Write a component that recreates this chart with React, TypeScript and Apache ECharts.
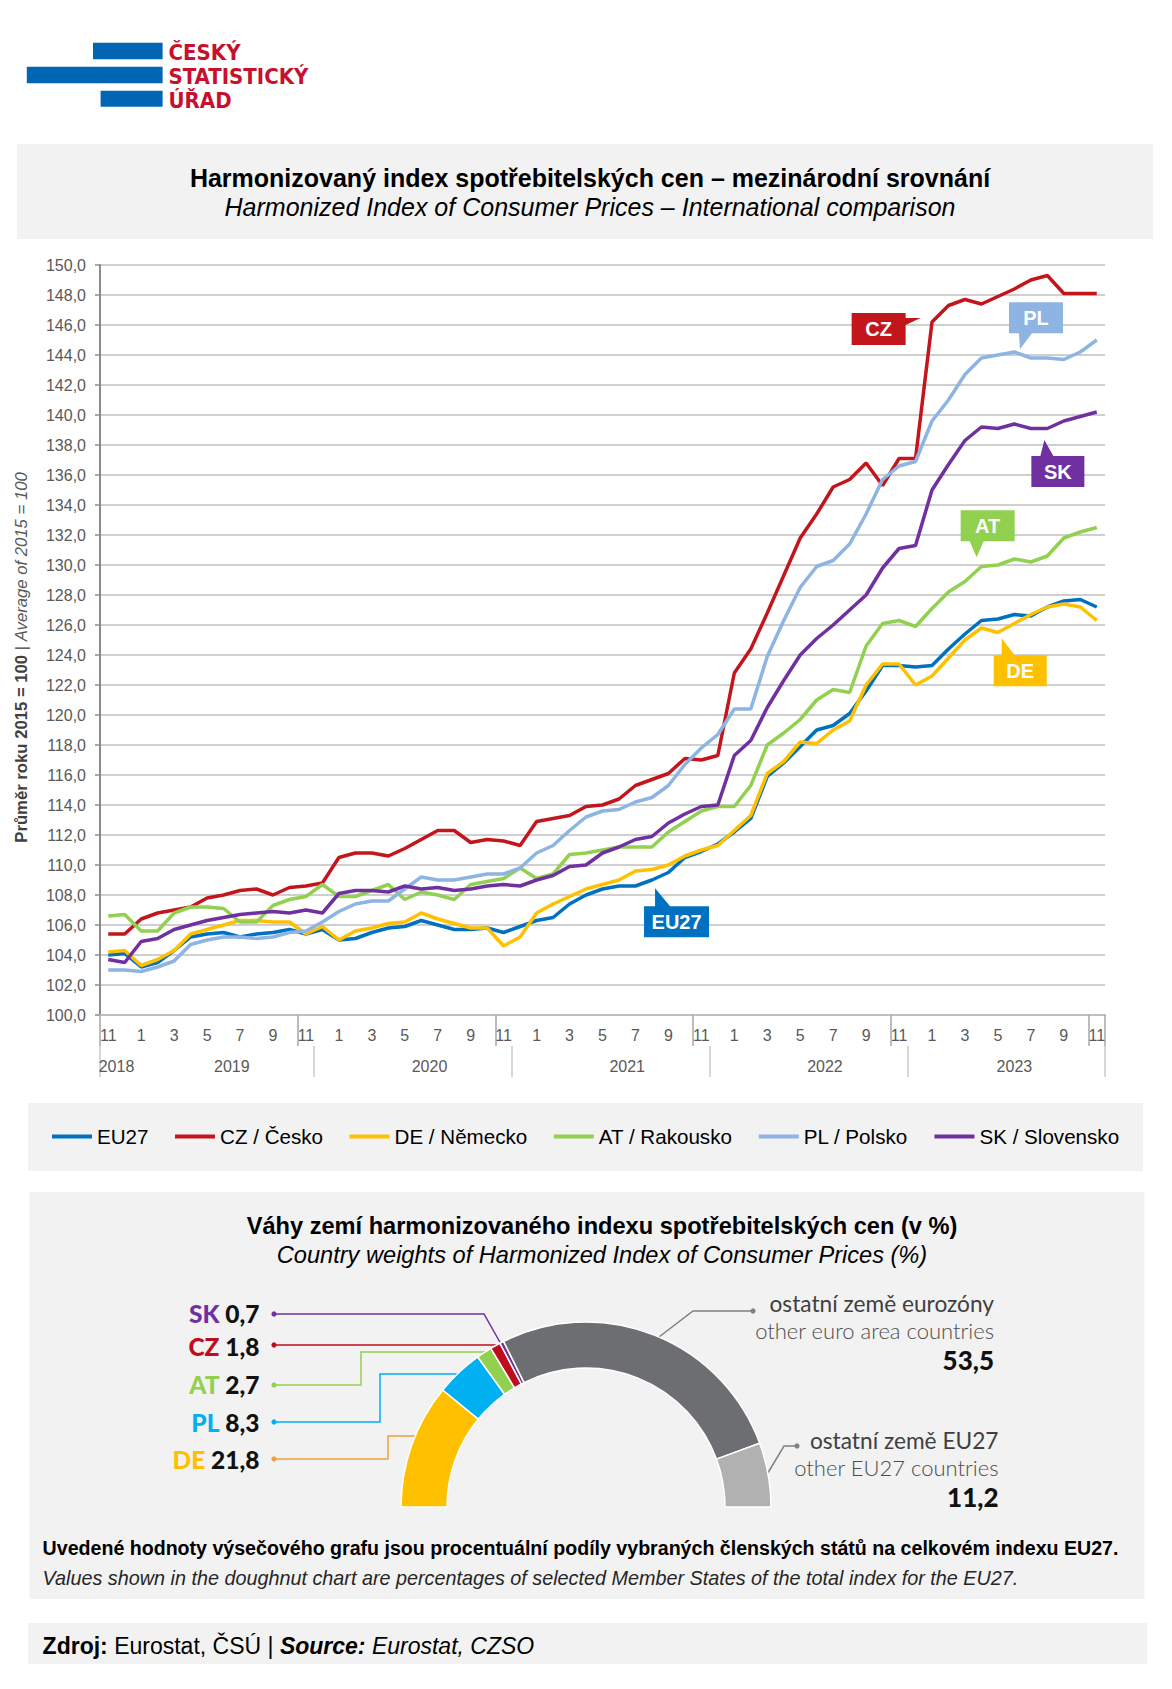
import React, { useEffect, useRef } from 'react';
import * as echarts from 'echarts';

// ---------- DATA ----------
const CATEGORIES = [
  '2018-11', '2018-12',
  '2019-01', '2019-02', '2019-03', '2019-04', '2019-05', '2019-06', '2019-07', '2019-08', '2019-09', '2019-10', '2019-11', '2019-12',
  '2020-01', '2020-02', '2020-03', '2020-04', '2020-05', '2020-06', '2020-07', '2020-08', '2020-09', '2020-10', '2020-11', '2020-12',
  '2021-01', '2021-02', '2021-03', '2021-04', '2021-05', '2021-06', '2021-07', '2021-08', '2021-09', '2021-10', '2021-11', '2021-12',
  '2022-01', '2022-02', '2022-03', '2022-04', '2022-05', '2022-06', '2022-07', '2022-08', '2022-09', '2022-10', '2022-11', '2022-12',
  '2023-01', '2023-02', '2023-03', '2023-04', '2023-05', '2023-06', '2023-07', '2023-08', '2023-09', '2023-10', '2023-11',
];
const YEAR_LABELS = ['2018', '2019', '2020', '2021', '2022', '2023'];

const SERIES_NAMES = ['EU27', 'CZ / Česko', 'DE / Německo', 'AT / Rakousko', 'PL / Polsko', 'SK / Slovensko'];

const EU27 = [
  104.0, 104.1, 103.2, 103.5, 104.3, 105.2, 105.4, 105.5, 105.2, 105.4, 105.5, 105.7, 105.4, 105.7,
  105.0, 105.1, 105.5, 105.8, 105.9, 106.3, 106.0, 105.7, 105.7, 105.8, 105.5, 105.9,
  106.3, 106.5, 107.4, 108.0, 108.4, 108.6, 108.6, 109.0, 109.5, 110.5, 110.9, 111.4,
  112.2, 113.1, 115.9, 116.8, 117.9, 119.0, 119.3, 120.1, 121.6, 123.3, 123.3, 123.2,
  123.3, 124.4, 125.4, 126.3, 126.4, 126.7, 126.6, 127.2, 127.6, 127.7, 127.2,
];
const CZ = [
  105.4, 105.4, 106.4, 106.8, 107.0, 107.2, 107.8, 108.0, 108.3, 108.4, 108.0, 108.5, 108.6, 108.8,
  110.5, 110.8, 110.8, 110.6, 111.1, 111.7, 112.3, 112.3, 111.5, 111.7, 111.6, 111.3,
  112.9, 113.1, 113.3, 113.9, 114.0, 114.4, 115.3, 115.7, 116.1, 117.1, 117.0, 117.3,
  122.8, 124.4, 126.8, 129.3, 131.8, 133.4, 135.2, 135.7, 136.8, 135.3, 137.1, 137.1,
  146.2, 147.3, 147.7, 147.4, 147.9, 148.4, 149.0, 149.3, 148.1, 148.1, 148.1,
];
const DE = [
  104.2, 104.3, 103.3, 103.7, 104.3, 105.4, 105.7, 106.0, 106.3, 106.3, 106.2, 106.2, 105.4, 105.9,
  105.0, 105.6, 105.8, 106.1, 106.2, 106.8, 106.4, 106.1, 105.8, 105.8, 104.6, 105.2,
  106.8, 107.4, 107.9, 108.4, 108.7, 109.0, 109.6, 109.7, 110.0, 110.6, 111.0, 111.3,
  112.3, 113.3, 116.1, 116.9, 118.2, 118.1, 119.0, 119.6, 122.0, 123.4, 123.4, 122.0,
  122.6, 123.8, 125.0, 125.8, 125.5, 126.1, 126.7, 127.2, 127.4, 127.2, 126.3,
];
const AT = [
  106.6, 106.7, 105.6, 105.6, 106.8, 107.2, 107.2, 107.1, 106.2, 106.2, 107.3, 107.7, 107.9, 108.7,
  107.9, 107.9, 108.3, 108.7, 107.7, 108.2, 108.0, 107.7, 108.7, 108.9, 109.1, 109.8,
  109.1, 109.4, 110.7, 110.8, 111.0, 111.2, 111.2, 111.2, 112.2, 112.9, 113.6, 113.9,
  113.9, 115.3, 118.0, 118.8, 119.7, 121.0, 121.7, 121.5, 124.6, 126.1, 126.3, 125.9,
  127.1, 128.2, 128.9, 129.9, 130.0, 130.4, 130.2, 130.6, 131.8, 132.2, 132.5,
];
const PL = [
  103.0, 103.0, 102.9, 103.2, 103.6, 104.7, 105.0, 105.2, 105.2, 105.1, 105.2, 105.5, 105.6, 106.2,
  106.9, 107.4, 107.6, 107.6, 108.4, 109.2, 109.0, 109.0, 109.2, 109.4, 109.4, 109.8,
  110.8, 111.3, 112.3, 113.2, 113.6, 113.7, 114.2, 114.5, 115.3, 116.7, 117.8, 118.7,
  120.4, 120.4, 123.9, 126.3, 128.5, 129.9, 130.3, 131.4, 133.4, 135.7, 136.6, 136.9,
  139.6, 141.0, 142.7, 143.8, 144.0, 144.2, 143.8, 143.8, 143.7, 144.2, 145.0,
];
const SK = [
  103.7, 103.5, 104.9, 105.1, 105.7, 106.0, 106.3, 106.5, 106.7, 106.8, 106.9, 106.8, 107.0, 106.8,
  108.1, 108.3, 108.3, 108.2, 108.6, 108.4, 108.5, 108.3, 108.4, 108.6, 108.7, 108.6,
  109.0, 109.3, 109.9, 110.0, 110.8, 111.2, 111.7, 111.9, 112.8, 113.4, 113.9, 114.0,
  117.3, 118.3, 120.5, 122.3, 124.0, 125.1, 126.0, 127.0, 128.0, 129.8, 131.1, 131.3,
  135.0, 136.7, 138.3, 139.2, 139.1, 139.4, 139.1, 139.1, 139.6, 139.9, 140.2,
];
const SERIES_VALUES = [EU27, CZ, DE, AT, PL, SK];

const WEIGHT_CODES = ['DE', 'PL', 'AT', 'CZ', 'SK', 'ostatní země eurozóny', 'ostatní země EU27'];
const WEIGHT_CODES_EN = ['', '', '', '', '', 'other euro area countries', 'other EU27 countries'];
const WEIGHTS = [21.8, 8.3, 2.7, 1.8, 0.7, 53.5, 11.2];

// ---------- STYLE / LAYOUT ----------
const FONT = "'Liberation Sans', Arial, Helvetica, sans-serif";
const GOTHIC = "Lato, 'Open Sans', sans-serif";
const SERIES_COLORS = ['#0070c0', '#c3161c', '#ffc000', '#92d050', '#8db4e2', '#7030a0'];
const WEIGHT_COLORS = ['#ffc000', '#00b0f0', '#92d050', '#c00d1e', '#7030a0', '#6d6e71', '#b1b1b1'];
const LEADER_COLORS = ['#eda33a', '#00b0f0', '#92d050', '#c00d1e', '#7030a0', '#808080', '#808080'];

const MONTH_SEP = [0, 12, 24, 36, 48, 60];
const YEAR_SEP = [0, 13, 25, 37, 49];
const YEAR_LABEL_INDEX = [0, 7, 19, 31, 43, 55];
const YEAR_LABEL_HALF = [true, true, true, true, true, false];

const PIE_CX = 586;
const PIE_CY = 1507;
const PIE_R = 185;
const PIE_r = 139;

// leader lines: dot end, elbow points (from dot side), y where it meets slice edge, side
const LEADERS = [
  { dot: [274, 1459], elbow: [[388, 1459], [388, 1436]], hitY: 1436, side: -1 },
  { dot: [274, 1422], elbow: [[380, 1422], [380, 1374]], hitY: 1374, side: -1 },
  { dot: [274, 1385], elbow: [[361, 1385], [361, 1352]], hitY: 1352, side: -1 },
  { dot: [274, 1345], elbow: [], hitY: 1345, side: -1 },
  { dot: [274, 1314], elbow: [[484, 1314]], hitY: 1343, side: -1 },
  { dot: [753, 1311], elbow: [[693, 1311]], hitY: 1337, side: 1 },
  { dot: [797, 1446], elbow: [[784, 1446]], hitY: 1473, side: 1 },
];
const LABEL_POS = [
  { x: 259.5, y: 1459, va: 'middle' },
  { x: 259.5, y: 1422.5, va: 'middle' },
  { x: 259.5, y: 1384, va: 'middle' },
  { x: 259.5, y: 1346, va: 'middle' },
  { x: 259.5, y: 1313.5, va: 'middle' },
  { x: 994, y: 1289.5, va: 'top' },
  { x: 998.5, y: 1426.5, va: 'top' },
];

// callouts: anchor (category index, value) = tip of pointer; polygon & text offsets in px
const CALLOUTS = [
  { label: 'CZ', s: 1, at: [49.31, 146.4], poly: [[-69, -6], [-15, -6], [-15, -1], [0, -1], [-15, 6], [-15, 26], [-69, 26]], t: [-42, 10] },
  { label: 'PL', s: 4, at: [55.34, 144.38], poly: [[-11, -47], [43, -47], [43, -16], [12, -16], [0, 0], [-1, -16], [-11, -16]], t: [16, -31.5] },
  { label: 'SK', s: 5, at: [56.82, 138.33], poly: [[-13, 16], [-4, 16], [0, 0], [9, 16], [40, 16], [40, 47], [-13, 47]], t: [13.5, 31.5] },
  { label: 'AT', s: 3, at: [52.71, 130.51], poly: [[-16, -47], [38, -47], [38, -16], [7, -16], [0, 0], [-7, -16], [-16, -16]], t: [11, -31.5] },
  { label: 'DE', s: 2, at: [54.23, 125.11], poly: [[-8, 17], [0, 17], [0, 0], [13, 17], [45, 17], [45, 48], [-8, 48]], t: [18.5, 32.5] },
  { label: 'EU27', s: 0, at: [33.19, 108.45], poly: [[-11, 18], [0, 18], [0, 0], [15, 18], [54, 18], [54, 49], [-11, 49]], t: [21.5, 33.5] },
];

const fmt = (v: number) => v.toFixed(1).replace('.', ',');

function hitPoint(y: number, side: number) {
  const dy = PIE_CY - y;
  const dx = Math.sqrt(Math.max(0, PIE_R * PIE_R - dy * dy));
  return [PIE_CX + side * dx, y];
}

function buildOption(): any {
  const rich: any = {
    v: { fontFamily: GOTHIC, fontWeight: 900, fontSize: 24.5, color: '#111' },
    n: { fontFamily: GOTHIC, fontSize: 22.7, color: '#404040', lineHeight: 27, align: 'right' },
    e: { fontFamily: GOTHIC, fontWeight: 300, fontSize: 22, color: '#4d4d4d', lineHeight: 27, align: 'right' },
    w: { fontFamily: GOTHIC, fontWeight: 900, fontSize: 26, color: '#111', lineHeight: 32, align: 'right' },
  };
  WEIGHT_COLORS.forEach((c, i) => {
    rich['c' + i] = { fontFamily: GOTHIC, fontWeight: 900, fontSize: 24.5, color: c };
  });

  const lines = SERIES_NAMES.map((name, i) => ({
    type: 'line',
    name,
    data: SERIES_VALUES[i],
    xAxisIndex: 0,
    yAxisIndex: 0,
    symbol: 'none',
    showSymbol: false,
    lineStyle: { width: 3.5, color: SERIES_COLORS[i] },
    itemStyle: { color: SERIES_COLORS[i] },
    emphasis: { disabled: true },
    z: 2,
  }));

  const pie = {
    type: 'pie',
    center: [PIE_CX, PIE_CY],
    radius: [PIE_r, PIE_R],
    startAngle: 180,
    endAngle: 0,
    clockwise: true,
    avoidLabelOverlap: false,
    minShowLabelAngle: 0,
    emphasis: { disabled: true },
    itemStyle: { borderColor: '#ffffff', borderWidth: 1.5 },
    label: {
      show: true,
      position: 'outside',
      formatter: (p: any) => {
        const i = p.dataIndex;
        if (i < 5) return `{c${i}|${WEIGHT_CODES[i]}}{v| ${fmt(WEIGHTS[i])}}`;
        return `{n|${WEIGHT_CODES[i]}}\n{e|${WEIGHT_CODES_EN[i]}}\n{w|${fmt(WEIGHTS[i])}}`;
      },
      rich,
    },
    labelLine: { show: true, length: 8, length2: 8, smooth: false, lineStyle: { width: 1.5 } },
    labelLayout: (p: any) => {
      const i = p.dataIndex;
      const L = LEADERS[i];
      const pts: number[][] = [hitPoint(L.hitY, L.side)];
      for (let k = L.elbow.length - 1; k >= 0; k--) pts.push(L.elbow[k]);
      pts.push(L.dot);
      const P = LABEL_POS[i];
      return { x: P.x, y: P.y, align: 'right', verticalAlign: P.va, labelLinePoints: pts };
    },
    data: WEIGHTS.map((v, i) => ({
      name: WEIGHT_CODES[i],
      value: v,
      itemStyle: { color: WEIGHT_COLORS[i] },
      labelLine: { lineStyle: { color: LEADER_COLORS[i], width: 1.5 } },
    })),
  };

  return {
    animation: false,
    textStyle: { fontFamily: FONT },
    grid: { left: 100, right: 67, top: 265, bottom: 674, containLabel: false },
    legend: {
      show: true,
      left: 52,
      top: 1126,
      padding: 0,
      itemWidth: 40,
      itemHeight: 4,
      itemGap: 26.5,
      icon: 'rect',
      selectedMode: false,
      textStyle: { fontFamily: FONT, fontSize: 20.6, color: '#000' },
      data: SERIES_NAMES,
    },
    xAxis: [
      {
        type: 'category',
        gridIndex: 0,
        data: CATEGORIES,
        boundaryGap: true,
        axisLine: { show: true, lineStyle: { color: '#bfbfbf', width: 2 } },
        axisTick: {
          show: true,
          interval: (i: number) => MONTH_SEP.includes(i),
          length: 31,
          lineStyle: { color: '#a6a6a6', width: 1.5 },
        },
        axisLabel: {
          interval: 1,
          margin: 12,
          fontSize: 16,
          color: '#595959',
          fontFamily: FONT,
          formatter: (v: string) => String(Number(v.split('-')[1])),
        },
        splitLine: { show: false },
      },
      {
        type: 'category',
        gridIndex: 0,
        position: 'bottom',
        offset: 31,
        data: CATEGORIES,
        boundaryGap: true,
        axisLine: { show: false },
        axisTick: {
          show: true,
          interval: (i: number) => YEAR_SEP.includes(i),
          length: 31,
          lineStyle: { color: '#c8c8c8', width: 1.5 },
        },
        axisLabel: {
          interval: (i: number) => YEAR_LABEL_INDEX.includes(i),
          margin: 12,
          formatter: (_v: string, i: number) => {
            const k = YEAR_LABEL_INDEX.indexOf(i);
            if (k < 0) return '';
            return YEAR_LABEL_HALF[k] ? `{h|${YEAR_LABELS[k]}}` : `{f|${YEAR_LABELS[k]}}`;
          },
          rich: {
            h: { fontSize: 16, color: '#595959', fontFamily: FONT, padding: [0, 0, 0, 16.5] },
            f: { fontSize: 16, color: '#595959', fontFamily: FONT },
          },
        },
        splitLine: { show: false },
      },
    ],
    yAxis: {
      type: 'value',
      min: 100,
      max: 150,
      interval: 2,
      axisLine: { show: true, lineStyle: { color: '#8c8c8c', width: 2 } },
      axisTick: { show: true, length: 5, lineStyle: { color: '#8c8c8c', width: 1.5 } },
      axisLabel: {
        margin: 14,
        fontSize: 16,
        color: '#595959',
        fontFamily: FONT,
        formatter: (v: number) => fmt(v),
      },
      splitLine: { show: true, lineStyle: { color: '#bfbfbf', width: 1.5 } },
    },
    series: [...lines, pie],
  };
}

function txt(id: string, x: number, y: number, text: string, o: any = {}, extra: any = {}) {
  return {
    type: 'text',
    id,
    x,
    y,
    z: 5,
    ...extra,
    style: {
      text,
      fill: '#000',
      fontFamily: FONT,
      fontSize: 16,
      align: 'left',
      verticalAlign: 'middle',
      ...o,
    },
  };
}

function buildGraphics(chart: any): any[] {
  const els: any[] = [];
  const rect = (id: string, x: number, y: number, w: number, h: number, fill: string) => ({
    type: 'rect', id, z: 0, shape: { x, y, width: w, height: h }, style: { fill },
  });
  // logo
  els.push(rect('lb1', 93, 42.7, 69.6, 16.6, '#0066b3'));
  els.push(rect('lb2', 26.8, 66.7, 135.8, 16.6, '#0066b3'));
  els.push(rect('lb3', 100.6, 90.7, 62, 16, '#0066b3'));
  const logoFont = { fontFamily: "'DejaVu Sans Condensed', 'DejaVu Sans', sans-serif", fontWeight: 'bold', fontSize: 22, fill: '#c8102e' };
  els.push(txt('lt1', 168.5, 52, 'ČESKÝ', logoFont));
  els.push(txt('lt2', 168.5, 76, 'STATISTICKÝ', logoFont));
  els.push(txt('lt3', 168.5, 100, 'ÚŘAD', logoFont));

  // title panel
  els.push(rect('tp', 16.8, 144, 1136, 95, '#f2f2f2'));
  els.push(txt('t1', 590, 177.5, 'Harmonizovaný index spotřebitelských cen – mezinárodní srovnání', { fontSize: 25, fontWeight: 'bold', align: 'center' }));
  els.push(txt('t2', 590, 207, 'Harmonized Index of Consumer Prices – International comparison', { fontSize: 25, fontStyle: 'italic', align: 'center' }));

  // y axis title
  els.push(txt('yt', 21.5, 657.5, '{b|Průměr roku 2015 = 100} | {i|Average of 2015 = 100}', {
    fontSize: 16.7, fill: '#404040', align: 'center',
    rich: {
      b: { fontSize: 16.7, fontWeight: 'bold', fill: '#404040', fontFamily: FONT },
      i: { fontSize: 16.7, fontStyle: 'italic', fill: '#595959', fontFamily: FONT },
    },
  }, { rotation: Math.PI / 2 }));

  // legend panel
  els.push(rect('lp', 28, 1103, 1115, 68, '#f2f2f2'));

  // doughnut panel
  els.push(rect('dp', 29.5, 1192, 1115, 407, '#f2f2f2'));
  els.push(txt('d1', 602, 1225.5, 'Váhy zemí harmonizovaného indexu spotřebitelských cen (v %)', { fontSize: 23.6, fontWeight: 'bold', align: 'center' }));
  els.push(txt('d2', 602, 1255, 'Country weights of Harmonized Index of Consumer Prices (%)', { fontSize: 23.6, fontStyle: 'italic', align: 'center' }));
  LEADERS.forEach((L, i) => {
    els.push({ type: 'circle', id: 'dot' + i, z: 6, shape: { cx: L.dot[0], cy: L.dot[1], r: 2.6 }, style: { fill: LEADER_COLORS[i] } });
  });
  els.push(txt('n1', 42.6, 1548.3, 'Uvedené hodnoty výsečového grafu jsou procentuální podíly vybraných členských států na celkovém indexu EU27.', { fontSize: 19.6, fontWeight: 'bold' }));
  els.push(txt('n2', 42.6, 1578.3, 'Values shown in the doughnut chart are percentages of selected Member States of the total index for the EU27.', { fontSize: 19.8, fontStyle: 'italic', fill: '#262626' }));

  // source panel
  els.push(rect('sp', 28, 1623, 1119, 41, '#f2f2f2'));
  els.push(txt('src', 42.6, 1646, '{b|Zdroj:} Eurostat, ČSÚ | {bi|Source:}{i| Eurostat, CZSO}', {
    fontSize: 23,
    rich: {
      b: { fontSize: 23, fontWeight: 'bold', fontFamily: FONT, fill: '#000' },
      bi: { fontSize: 23, fontWeight: 'bold', fontStyle: 'italic', fontFamily: FONT, fill: '#000' },
      i: { fontSize: 23, fontStyle: 'italic', fontFamily: FONT, fill: '#000' },
    },
  }));

  // callouts anchored in data space
  const p0 = chart.convertToPixel({ gridIndex: 0 }, [0, 100]);
  const p1 = chart.convertToPixel({ gridIndex: 0 }, [1, 100]);
  const band = p1[0] - p0[0];
  CALLOUTS.forEach((c, k) => {
    const py = chart.convertToPixel({ gridIndex: 0 }, [0, c.at[1]]);
    const tx = p0[0] + c.at[0] * band;
    const ty = py[1];
    els.push({
      type: 'polygon', id: 'cp' + k, z: 50,
      shape: { points: c.poly.map(([dx, dy]) => [tx + dx, ty + dy]) },
      style: { fill: SERIES_COLORS[c.s] },
    });
    els.push(txt('ct' + k, tx + c.t[0], ty + c.t[1], c.label, { fontSize: 20, fontWeight: 'bold', fill: '#ffffff', align: 'center' }, { z: 51 }));
  });
  return els;
}

export default function App() {
  const ref = useRef<HTMLDivElement>(null);
  useEffect(() => {
    document.body.style.margin = '0';
    const chart = echarts.init(ref.current as HTMLDivElement, null, { renderer: 'svg', width: 1172, height: 1689 });
    chart.setOption(buildOption());
    chart.setOption({ graphic: { elements: buildGraphics(chart) } });
    return () => {
      chart.dispose();
    };
  }, []);
  return <div ref={ref} style={{ width: 1172, height: 1689 }} />;
}
